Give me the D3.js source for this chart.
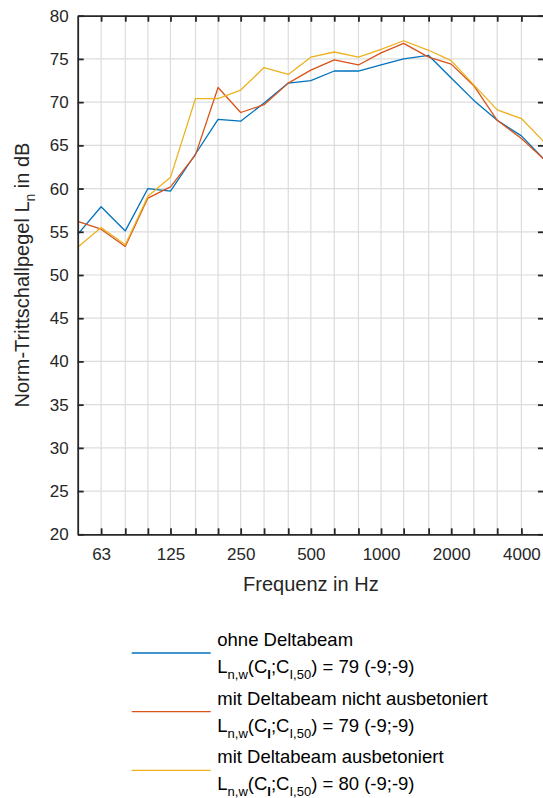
<!DOCTYPE html>
<html>
<head>
<meta charset="utf-8">
<script src="https://cdn.jsdelivr.net/npm/d3@7"></script>
<style>
  body { margin: 0; background: #fff; }
  svg { display: block; font-family: "Liberation Sans", Arial, sans-serif; }
</style>
</head>
<body>
<div class="chart"></div>
<script>
// third-octave band centre frequencies (Hz)
var freqs = [50, 63, 80, 100, 125, 160, 200, 250, 315, 400, 500, 630, 800,
             1000, 1250, 1600, 2000, 2500, 3150, 4000, 5000];
var freqLabels = [63, 125, 250, 500, 1000, 2000, 4000];
var yTicks = [20, 25, 30, 35, 40, 45, 50, 55, 60, 65, 70, 75, 80];

var ohneDeltabeam = [54.7, 57.9, 55.1, 60.0, 59.7, 64.0, 68.0, 67.8, 69.9, 72.2, 72.5,
                     73.6, 73.6, 74.3, 75.0, 75.4, 72.8, 70.2, 67.9, 66.1, 63.4];
var nichtAusbetoniert = [56.2, 55.3, 53.3, 58.9, 60.2, 63.9, 71.7, 68.8, 69.7, 72.2, 73.7,
                         74.9, 74.3, 75.7, 76.8, 75.2, 74.4, 71.9, 67.9, 65.8, 63.4];
var ausbetoniert = [53.2, 55.5, 53.5, 59.1, 61.3, 70.4, 70.4, 71.4, 74.0, 73.2, 75.2,
                    75.8, 75.2, 76.1, 77.1, 76.0, 74.8, 72.0, 69.1, 68.1, 65.4];

var seriesNames = ['ohne Deltabeam', 'mit Deltabeam nicht ausbetoniert', 'mit Deltabeam ausbetoniert'];
var seriesRatings = ['79 (-9;-9)', '79 (-9;-9)', '80 (-9;-9)'];
var seriesColors = ['#0072BD', '#D95319', '#EDB120'];
var seriesValues = [ohneDeltabeam, nichtAusbetoniert, ausbetoniert];

var width = 543, height = 798;
var plot = { left: 77.7, right: 544, top: 15.7, bottom: 534.3 };
var axisColor = '#262626';

var svg = d3.select('.chart')
  .append('svg')
    .attr('width', width)
    .attr('height', height);

var xScale = d3.scaleLog()
    .domain([50, 5000])
    .range([plot.left, plot.right]);

var yScale = d3.scaleLinear()
    .domain([20, 80])
    .range([plot.bottom, plot.top]);

// grid
var grid = svg.append('g').attr('class', 'grid')
    .attr('stroke', '#dcdcdc')
    .attr('stroke-width', 1.2);

grid.selectAll('.vgrid')
  .data(freqs.slice(1, -1))
  .enter().append('line')
    .attr('x1', d => xScale(d)).attr('x2', d => xScale(d))
    .attr('y1', plot.top).attr('y2', plot.bottom);

grid.selectAll('.hgrid')
  .data(yTicks.slice(1, -1))
  .enter().append('line')
    .attr('x1', plot.left).attr('x2', plot.right)
    .attr('y1', d => yScale(d)).attr('y2', d => yScale(d));

// data lines
var line = d3.line()
    .x((d, i) => xScale(freqs[i]))
    .y(d => yScale(d));

svg.append('g').selectAll('path')
  .data(seriesValues)
  .enter().append('path')
    .attr('d', d => line(d))
    .attr('fill', 'none')
    .attr('stroke', (d, i) => seriesColors[i])
    .attr('stroke-width', 1.3)
    .attr('stroke-linejoin', 'round');

// axes (inward ticks, box)
var xAxisBottom = d3.axisBottom(xScale)
    .tickValues(freqs.slice(1, -1))
    .tickSizeInner(-6)
    .tickSizeOuter(0)
    .tickPadding(14)
    .tickFormat(d => freqLabels.indexOf(d) >= 0 ? d : '');

var xAxisTop = d3.axisTop(xScale)
    .tickValues(freqs.slice(1, -1))
    .tickSizeInner(-6)
    .tickSizeOuter(0)
    .tickFormat('');

var yAxisLeft = d3.axisLeft(yScale)
    .tickValues(yTicks)
    .tickSizeInner(-6)
    .tickSizeOuter(0)
    .tickPadding(9);

var yAxisRight = d3.axisRight(yScale)
    .tickValues(yTicks)
    .tickSizeInner(-6)
    .tickSizeOuter(0)
    .tickFormat('');

function styleAxis(g) {
  g.select('.domain').attr('stroke', axisColor).attr('stroke-width', 1.8);
  g.selectAll('.tick line').attr('stroke', axisColor).attr('stroke-width', 1.8);
  g.selectAll('.tick text')
    .attr('fill', axisColor)
    .style('font-size', '17px')
    .style('font-family', '"Liberation Sans", Arial, sans-serif');
}

svg.append('g')
  .attr('transform', `translate(0, ${plot.bottom})`)
  .call(xAxisBottom)
  .call(styleAxis);

svg.append('g')
  .attr('transform', `translate(0, ${plot.top})`)
  .call(xAxisTop)
  .call(styleAxis);

svg.append('g')
  .attr('transform', `translate(${plot.left}, 0)`)
  .call(yAxisLeft)
  .call(styleAxis);

svg.append('g')
  .attr('transform', `translate(${plot.right}, 0)`)
  .call(yAxisRight)
  .call(styleAxis);

// text label for x axis
svg.append('text')
  .attr('x', (plot.left + plot.right) / 2)
  .attr('y', 591)
  .attr('fill', axisColor)
  .style('text-anchor', 'middle')
  .style('font-size', '20px')
  .text('Frequenz in Hz');

// text label for y axis
var yLabel = svg.append('text')
  .attr('transform', 'translate(28.5,' + ((plot.top + plot.bottom) / 2) + ') rotate(-90)')
  .attr('fill', axisColor)
  .style('text-anchor', 'middle')
  .style('font-size', '20px');
yLabel.append('tspan').text('Norm-Trittschallpegel L');
yLabel.append('tspan').attr('dy', 6).style('font-size', '14px').text('n');
yLabel.append('tspan').attr('dy', -6).text(' in dB');

// legend
var legend = svg.append('g').attr('class', 'legend');
var legendTop = 646, legendStep = 58.7;

seriesNames.forEach(function(name, i) {
  var y0 = legendTop + i * legendStep;
  legend.append('line')
    .attr('x1', 131.7).attr('x2', 210.7)
    .attr('y1', y0 + 7).attr('y2', y0 + 7)
    .attr('stroke', seriesColors[i])
    .attr('stroke-width', 1.3);

  legend.append('text')
    .attr('x', 217.3).attr('y', y0)
    .attr('fill', '#000')
    .style('font-size', '18.5px')
    .text(name);

  var t = legend.append('text')
    .attr('x', 217.3).attr('y', y0 + 27)
    .attr('fill', '#000')
    .style('font-size', '18.5px');
  t.append('tspan').text('L');
  t.append('tspan').attr('dy', 6).style('font-size', '13px').text('n,w');
  t.append('tspan').attr('dy', -6).text('(C');
  t.append('tspan').attr('dy', 6).style('font-size', '13px').style('font-weight', 'bold').text('I');
  t.append('tspan').attr('dy', -6).text(';C');
  t.append('tspan').attr('dy', 6).style('font-size', '13px').text('I,50');
  t.append('tspan').attr('dy', -6).text(') = ' + seriesRatings[i]);
});
</script>
</body>
</html>
